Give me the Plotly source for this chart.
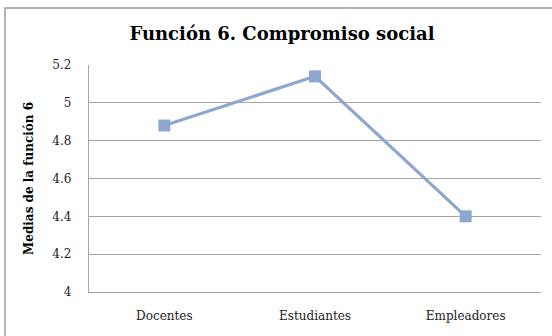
import plotly.graph_objects as go

categories = ["Docentes", "Estudiantes", "Empleadores"]
values = [4.88, 5.14, 4.40]
tick_vals = [4, 4.2, 4.4, 4.6, 4.8, 5, 5.2]
tick_text = ["4", "4.2", "4.4", "4.6", "4.8", "5", "5.2"]

FONT = "DejaVu Serif"
L, R, T, B = 89, 11, 65, 44
W, H = 552, 336
pw, ph = W - L - R, H - T - B

fig = go.Figure()
fig.add_trace(go.Scatter(
    x=categories, y=values, mode="lines+markers",
    line=dict(color="#8EA7D0", width=3.2),
    marker=dict(symbol="square", size=12, color="#8EA7D0"),
    showlegend=False, cliponaxis=False,
))

fig.update_layout(
    width=W, height=H,
    margin=dict(l=L, r=R, t=T, b=B),
    paper_bgcolor="white", plot_bgcolor="white",
    font=dict(family=FONT, size=12, color="#222"),
    title=dict(text="<b>Función 6. Compromiso social</b>", x=(282 - L) / pw, xref="paper",
               xanchor="center", y=1 - 34 / H, yanchor="middle",
               font=dict(family=FONT, size=18, color="#000")),
    xaxis=dict(type="category", range=[-0.5, 2.5], showgrid=False,
               showline=True, linecolor="#A6A6A6", linewidth=1.3,
               ticks="outside", ticklen=12, tickcolor="rgba(0,0,0,0)",
               tickfont=dict(family=FONT, size=12, color="#222"), zeroline=False),
    yaxis=dict(range=[4, 5.2], tickvals=tick_vals, ticktext=tick_text,
               showgrid=True, gridcolor="#A6A6A6", gridwidth=1.3,
               showline=True, linecolor="#A6A6A6", linewidth=1.3,
               ticks="outside", ticklen=14, tickcolor="rgba(0,0,0,0)",
               tickfont=dict(family=FONT, size=12, color="#222"), zeroline=False,
               title=dict(text="<b>Medias de la función 6</b>", standoff=16,
                          font=dict(family=FONT, size=12, color="#000"))),
    shapes=[dict(type="rect", xref="paper", yref="paper",
                 x0=(5 - L) / pw, x1=1.2, y0=-0.5, y1=(H - B - 8) / ph,
                 line=dict(color="#9a9a9a", width=1.5), fillcolor="rgba(0,0,0,0)", layer="below")],
)

fig.write_html("out.html")
